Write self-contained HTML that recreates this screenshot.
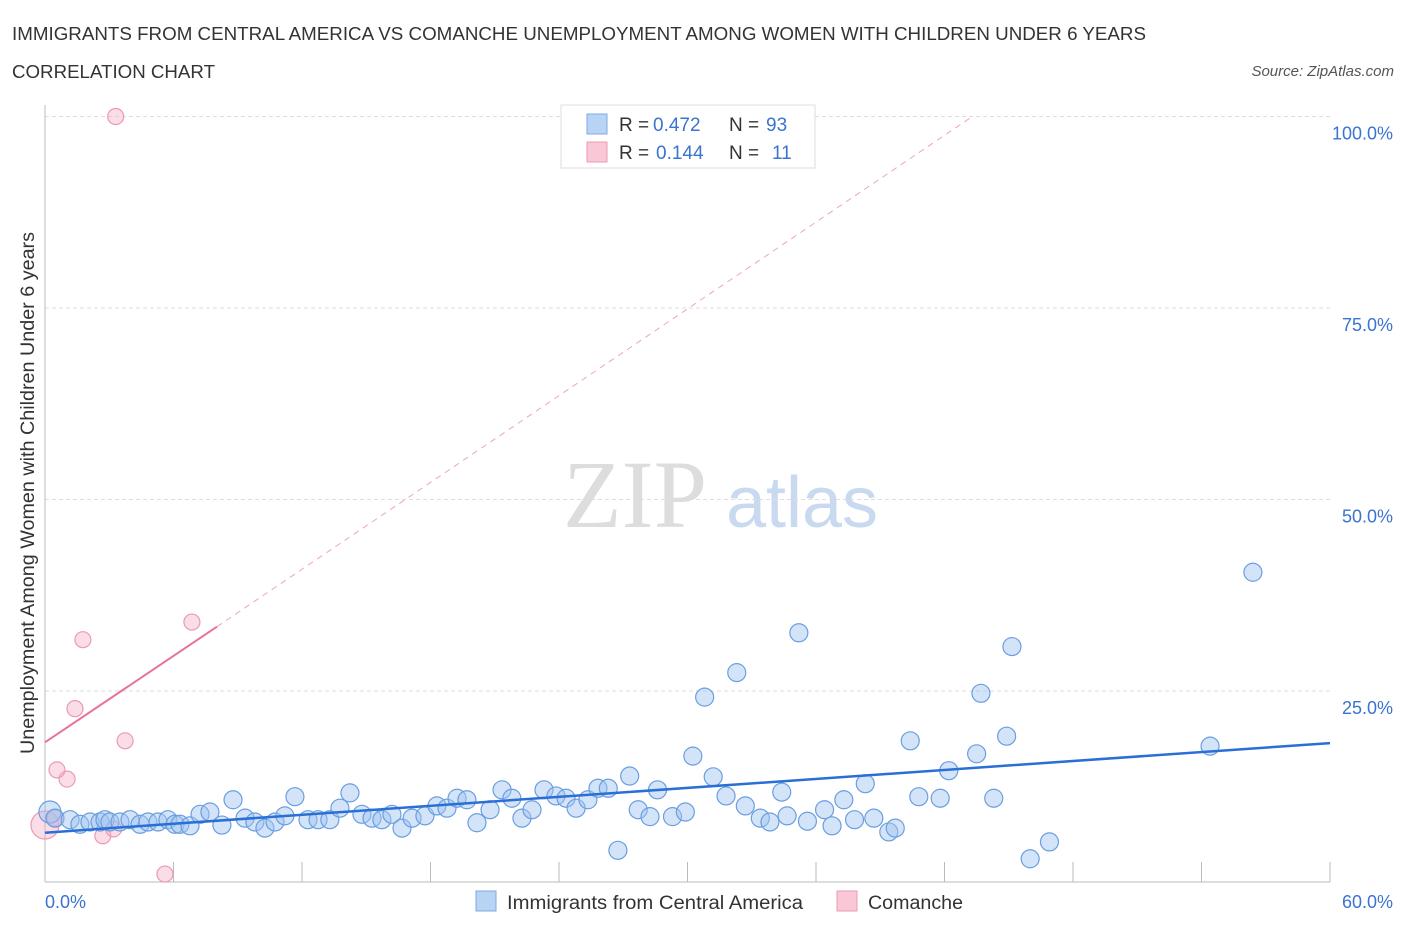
<!DOCTYPE html>
<html><head><meta charset="utf-8"><style>
body{margin:0;background:#fff;font-family:"Liberation Sans",sans-serif}
</style></head><body>
<svg id="c" width="1406" height="930" xmlns="http://www.w3.org/2000/svg" style="font-family:'Liberation Sans',sans-serif">
<text x="12" y="40" font-size="18" fill="#333" textLength="1134" lengthAdjust="spacingAndGlyphs">IMMIGRANTS FROM CENTRAL AMERICA VS COMANCHE UNEMPLOYMENT AMONG WOMEN WITH CHILDREN UNDER 6 YEARS</text>
<text x="12" y="78" font-size="18" fill="#333" textLength="203" lengthAdjust="spacingAndGlyphs">CORRELATION CHART</text>
<text x="1394" y="76" font-size="15" fill="#555" font-style="italic" text-anchor="end">Source: ZipAtlas.com</text>
<g>
<text x="635" y="527" font-size="96" fill="#ddd" text-anchor="middle" font-family="Liberation Serif,serif">ZIP</text>
<text x="802" y="527" font-size="72" fill="#c9daf0" text-anchor="middle">atlas</text>
</g>
<g id="grid"></g><g id="axes"></g><g id="marks"></g>
<text transform="translate(34,493) rotate(-90)" font-size="19" fill="#333" text-anchor="middle" textLength="522" lengthAdjust="spacingAndGlyphs">Unemployment Among Women with Children Under 6 years</text>
<text x="45" y="908" font-size="18" fill="#3a74d0">0.0%</text>
<text x="1393" y="908" font-size="18" fill="#3a74d0" text-anchor="end">60.0%</text>
<g>
<rect x="561" y="105" width="254" height="63" fill="#fff" stroke="#ddd"/>
<rect x="587" y="114" width="20" height="20" fill="#b9d3f5" stroke="#7ea8e3"/>
<rect x="587" y="142" width="20" height="20" fill="#f8c8d6" stroke="#eb9ab2"/>
<text x="619" y="131" font-size="19" fill="#333">R =</text>
<text x="653" y="131" font-size="19" fill="#3a74d0">0.472</text>
<text x="729" y="131" font-size="19" fill="#333">N =</text>
<text x="766" y="131" font-size="19" fill="#3a74d0">93</text>
<text x="619" y="159" font-size="19" fill="#333">R =</text>
<text x="656" y="159" font-size="19" fill="#3a74d0">0.144</text>
<text x="729" y="159" font-size="19" fill="#333">N =</text>
<text x="772" y="159" font-size="19" fill="#3a74d0">11</text>
</g>
<g>
<rect x="476" y="891" width="20" height="20" fill="#b9d3f5" stroke="#7ea8e3"/>
<text x="507" y="909" font-size="19" fill="#333" textLength="296" lengthAdjust="spacingAndGlyphs">Immigrants from Central America</text>
<rect x="837" y="891" width="20" height="20" fill="#f8c8d6" stroke="#eb9ab2"/>
<text x="868" y="909" font-size="19" fill="#333" textLength="95" lengthAdjust="spacingAndGlyphs">Comanche</text>
</g>
</svg>
<script>
const yTicks=[25,50,75,100];
const yTickLabels=["25.0%","50.0%","75.0%","100.0%"];
const xTicks=[0,6,12,18,24,30,36,42,48,54,60];
const blueX=[0.23,0.47,1.17,1.63,2.1,2.57,2.8,3.03,3.5,3.97,4.44,4.81,5.28,5.74,6.07,6.3,6.77,7.24,7.7,8.26,8.78,9.34,9.8,10.27,10.74,11.2,11.67,12.28,12.75,13.3,13.77,14.24,14.8,15.27,15.73,16.2,16.67,17.14,17.74,18.3,18.77,19.24,19.7,20.17,20.78,21.34,21.8,22.27,22.74,23.3,23.86,24.33,24.8,25.35,25.82,26.3,26.75,27.3,27.7,28.25,28.6,29.3,29.9,30.25,30.8,31.2,31.8,32.3,32.7,33.4,33.85,34.4,34.65,35.2,35.6,36.4,36.75,37.3,37.8,38.3,38.7,39.4,39.7,40.4,40.8,41.8,42.2,43.5,43.7,44.3,44.9,45.15,46.0,46.9,54.4,56.4];
const blueY=[9.2,8.4,8.2,7.6,7.9,7.9,8.2,7.9,7.9,8.2,7.6,7.9,7.9,8.2,7.6,7.6,7.4,8.9,9.2,7.5,10.8,8.4,7.9,7.1,7.9,8.7,11.2,8.2,8.2,8.2,9.7,11.7,8.9,8.4,8.2,8.9,7.1,8.4,8.7,10.0,9.7,11.0,10.8,7.8,9.5,12.1,11.0,8.4,9.5,12.1,11.3,11.0,9.7,10.8,12.3,12.3,4.2,13.9,9.5,8.6,12.1,8.6,9.2,16.5,24.2,13.8,11.3,27.4,10.0,8.4,7.9,11.8,8.7,32.6,8.0,9.5,7.4,10.8,8.2,12.9,8.4,6.6,7.1,18.5,11.2,11.0,14.6,16.8,24.7,11.0,19.1,30.8,3.1,5.3,17.8,40.5];
const pinkX=[0,0.47,1.03,0.56,1.4,1.77,2.7,3.2,3.74,5.6,6.86,3.3];
const pinkY=[7.5,8.4,13.5,14.7,22.7,31.7,6.1,7.0,18.5,1.1,34.0,100];
const blueTrend=[6.5,18.2];
const pinkTrend=[18.3,33.4,100];
const pinkTrendX=[0,8.03,43.3];
const NS="http://www.w3.org/2000/svg";
const X=v=>45+v/60*1285, Y=v=>882.5-v/25*191.5;
function mk(p,t,a){const e=document.createElementNS(NS,t);for(const k in a)e.setAttribute(k,a[k]);document.getElementById(p).appendChild(e);return e;}
yTicks.forEach((t,i)=>{
 const l=mk('grid','line',{x1:45,x2:1330,y1:Y(t),y2:Y(t),stroke:'#ddd','stroke-dasharray':'4,3'});
 
 
 const tx=mk('grid','text',{x:1393,y:Y(t)+23,'font-size':18,fill:'#3a74d0','text-anchor':'end'});
 tx.textContent=yTickLabels[i];
 
 
});
const ax=mk('axes','line',{x1:45,x2:45,y1:105,y2:882,stroke:'#bbb'});


const bx=mk('axes','line',{x1:45,x2:1330,y1:882,y2:882,stroke:'#bbb'});


xTicks.forEach(t=>{const l=mk('axes','line',{x1:X(t),x2:X(t),y1:862,y2:882,stroke:'#bbb'});
 
 });
pinkX.forEach((v,i)=>{const c=mk('marks','circle',{cx:X(v),cy:Y(pinkY[i]),r:i==0?14:8,fill:'rgba(245,170,195,0.4)',stroke:'#eb9ab2','stroke-width':1.2});
 
 });
blueX.forEach((v,i)=>{const c=mk('marks','circle',{cx:X(v),cy:Y(blueY[i]),r:i==0?11:9,fill:'rgba(160,195,240,0.45)',stroke:'#6a9ee0','stroke-width':1.2});
 
 });
const bt=mk('marks','line',{x1:X(0),y1:Y(blueTrend[0]),x2:X(60),y2:Y(blueTrend[1]),stroke:'#2a6fd6','stroke-width':2.5});


const pt=mk('marks','line',{x1:X(pinkTrendX[0]),y1:Y(pinkTrend[0]),x2:X(pinkTrendX[1]),y2:Y(pinkTrend[1]),stroke:'#e8739a','stroke-width':2});


const pd=mk('marks','line',{x1:X(pinkTrendX[1]),y1:Y(pinkTrend[1]),x2:X(pinkTrendX[2]),y2:Y(pinkTrend[2]),stroke:'#eea5bd','stroke-width':1,'stroke-dasharray':'6,5'});


</script>
</body></html>
